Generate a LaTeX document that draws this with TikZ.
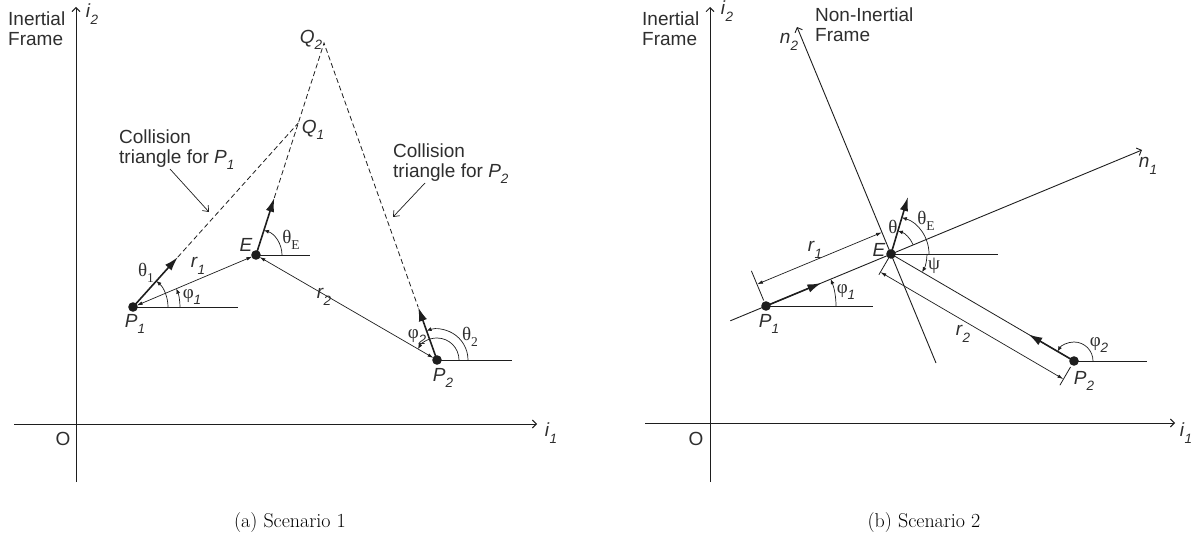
\documentclass[tikz,border=0pt]{standalone}
\usepackage{fontspec}
\newfontfamily\sff{Liberation Sans}
\newfontfamily\grk{Liberation Serif}
\usetikzlibrary{arrows.meta,calc}
\definecolor{ink}{HTML}{1E1E1E}
\definecolor{txt}{HTML}{2E2E2E}
\newcommand{\ilab}[2]{\textit{#1}\raisebox{-0.35em}{\fontsize{13.5}{13.5}\selectfont\textit{#2}}}
\newcommand{\glab}[2]{{\grk #1}\raisebox{-0.3em}{\fontsize{13.5}{13.5}\selectfont\grk #2}}
\newcommand{\gilab}[2]{{\grk #1}\raisebox{-0.35em}{\fontsize{13.5}{13.5}\selectfont\textit{#2}}}
\begin{document}
\begin{tikzpicture}[x=1pt,y=-1pt,
  axis/.style={draw=ink,line width=0.9pt,-{Straight Barb[length=4pt,width=8pt]}},
  thinline/.style={draw=ink,line width=0.8pt},
  vel/.style={draw=ink,line width=1.6pt,-{Latex[length=14pt,width=8.5pt]}},
  dimline/.style={draw=ink,line width=0.7pt,{Latex[length=6pt,width=3.5pt]}-{Latex[length=6pt,width=3.5pt]}},
  dsh/.style={draw=ink,line width=0.8pt,dash pattern=on 5pt off 3pt},
  ang/.style={draw=ink,line width=0.7pt,-{Latex[length=5pt,width=4pt]}},
  ptr/.style={draw=ink,line width=0.7pt,-{Straight Barb[length=5pt,width=8pt]}},
  lbl/.style={font=\sff\fontsize{19}{19.5}\selectfont,text=txt,inner sep=0pt},
  captxt/.style={font=\fontsize{20}{22}\selectfont,text=black,inner sep=0pt},
  dotfill/.style={fill=ink}]
\useasboundingbox (0,0) rectangle (1199,540);

% ================= left panel =================
\coordinate (LxS) at (14,424);
\coordinate (LxE) at (537,424);
\coordinate (LyS) at (76,482);
\coordinate (LyE) at (76,7);
\draw[axis] (LxS) -- (LxE);
\draw[axis] (LyS) -- (LyE);
\node[lbl] (Li1) at (551,433) {\ilab{i}{1}};
\node[lbl] (Li2) at (92,14) {\ilab{i}{2}};
\node[lbl] (LO) at (63,439) {O};
\node[lbl,align=left,anchor=north west] (LIF) at (8,12) {Inertial\\Frame};

\coordinate (P1) at (133,307);
\coordinate (E) at (256,255);
\coordinate (P2) at (437,360);
\coordinate (Q2) at (324,43);
\coordinate (Q1) at (298.3,123);
\coordinate (T1) at ($(P1)!67pt!(Q1)$);
\coordinate (TE) at ($(E)!60pt!(Q1)$);
\coordinate (T2) at ($(P2)!56pt!(Q2)$);
\coordinate (H1) at (238,307);
\coordinate (HE) at (310,255);
\coordinate (H2) at (512,360);

\draw[dsh] (T1) -- (Q1);
\draw[dsh] (TE) -- (Q1) -- (Q2) -- (T2);
\draw[thinline] (P1) -- (H1);
\draw[thinline] (E) -- (HE);
\draw[thinline] (P2) -- (H2);
\draw[dimline,shorten <=4pt,shorten >=4pt] (P1) -- (E);
\draw[dimline,shorten <=4pt,shorten >=4pt] (E) -- (P2);
\draw[vel] (P1) -- (T1);
\draw[vel] (E) -- (TE);
\draw[vel] (P2) -- (T2);

\draw[ang] ($(P1)+(35pt,0pt)$) arc[start angle=0,end angle=48.06,radius=35pt];
\draw[ang] ($(P1)+(47pt,0pt)$) arc[start angle=0,end angle=22.92,radius=47pt];
\draw[ang] ($(E)+(26pt,0pt)$) arc[start angle=0,end angle=72.2,radius=26pt];
\draw[ang] ($(P2)+(22pt,0pt)$) arc[start angle=0,end angle=149.9,radius=22pt];
\draw[ang] ($(P2)+(31pt,0pt)$) arc[start angle=0,end angle=109.6,radius=31pt];

\fill[dotfill] (P1) circle[radius=4.8pt];
\fill[dotfill] (E) circle[radius=4.8pt];
\fill[dotfill] (P2) circle[radius=4.8pt];

\node[lbl] (LP1) at (135,324) {\ilab{P}{1}};
\node[lbl] (LE) at (246,245) {\textit{E}};
\node[lbl] (LP2) at (443,378) {\ilab{P}{2}};
\node[lbl] (LQ1) at (313,130) {\ilab{Q}{1}};
\node[lbl] (LQ2) at (311,40) {\ilab{Q}{2}};
\node[lbl] (Lr1) at (198,266) {\ilab{r}{1}};
\node[lbl] (Lr2) at (324,297) {\ilab{r}{2}};
\node[lbl] (Lth1) at (146,273) {\glab{θ}{1}};
\node[lbl] (Lph1) at (192,297) {\gilab{φ}{1}};
\node[lbl] (LthE) at (291,240) {\glab{θ}{E}};
\node[lbl] (Lph2) at (417,337) {\gilab{φ}{2}};
\node[lbl] (Lth2) at (470,337) {\glab{θ}{2}};

\node[lbl,align=left,anchor=west] (CT1) at (119,150) {Collision\\triangle for \ilab{P}{1}};
\node[lbl,align=left,anchor=west] (CT2) at (393,164) {Collision\\triangle for \ilab{P}{2}};
\coordinate (C1a) at (170,169);
\coordinate (C1b) at (209,212);
\coordinate (C2a) at (425,183);
\coordinate (C2b) at (393,217);
\draw[ptr] (C1a) -- (C1b);
\draw[ptr] (C2a) -- (C2b);

\node[captxt] (CapA) at (290,523) {(a) Scenario 1};

% ================= right panel =================
\coordinate (RxS) at (645,423);
\coordinate (RxE) at (1175,423);
\coordinate (RyS) at (710,482);
\coordinate (RyE) at (710,7);
\draw[axis] (RxS) -- (RxE);
\draw[axis] (RyS) -- (RyE);
\node[lbl] (Ri1) at (1186,433) {\ilab{i}{1}};
\node[lbl] (Ri2) at (727,11) {\ilab{i}{2}};
\node[lbl] (RO) at (696,439) {O};
\node[lbl,align=left,anchor=north west] (RIF) at (642,12) {Inertial\\Frame};
\node[lbl,align=left,anchor=north west] (RNIF) at (815,8) {Non-Inertial\\Frame};

\coordinate (RE) at (891,254);
\coordinate (RP1) at (766,306);
\coordinate (RP2) at (1074,361);
\coordinate (N1s) at (730.3,320.8);
\coordinate (N1e) at (1142,150);
\coordinate (N2s) at (936,363);
\coordinate (N2e) at (797,27);
\coordinate (RV1) at (821.4,283);
\coordinate (RV2) at (1028.3,334.3);
\coordinate (RVE) at (908,197);
\coordinate (RH1) at (873,306);
\coordinate (RHE) at (998,254);
\coordinate (RH2) at (1147,361);
\coordinate (K1a) at (763.7,300.5);
\coordinate (K1b) at (751.4,270.9);
\coordinate (KEb) at (878.9,274.7);
\coordinate (K2a) at (1070.5,367);
\coordinate (K2b) at (1059.9,385.2);
\coordinate (D1a) at (757,284.3);
\coordinate (D1b) at (882,232.3);
\coordinate (D2a) at (880.4,272.1);
\coordinate (D2b) at (1063.4,379.1);

\draw[axis] (N1s) -- (N1e);
\draw[axis] (N2s) -- (N2e);
\draw[thinline] (RE) -- (RP2);
\draw[thinline] (RP1) -- (RH1);
\draw[thinline] (RE) -- (RHE);
\draw[thinline] (RP2) -- (RH2);
\draw[thinline] (K1a) -- (K1b);
\draw[thinline] (RE) -- (KEb);
\draw[thinline] (K2a) -- (K2b);
\draw[dimline] (D1a) -- (D1b);
\draw[dimline] (D2a) -- (D2b);
\draw[vel] (RP1) -- (RV1);
\draw[vel] (RP2) -- (RV2);
\draw[vel] (RE) -- (RVE);

\draw[ang] ($(RP1)+(70pt,0pt)$) arc[start angle=0,end angle=22.59,radius=70pt];
\draw[ang] ($(RE)+(22.59:24pt)$) arc[start angle=22.59,end angle=73.4,radius=24pt];
\draw[ang] ($(RE)+(38pt,0pt)$) arc[start angle=0,end angle=73.4,radius=38pt];
\draw[ang] ($(RE)+(36pt,0pt)$) arc[start angle=0,end angle=-30.3,radius=36pt];
\draw[ang] ($(RP2)+(19pt,0pt)$) arc[start angle=0,end angle=149.7,radius=19pt];

\fill[dotfill] (RP1) circle[radius=4.8pt];
\fill[dotfill] (RE) circle[radius=4.8pt];
\fill[dotfill] (RP2) circle[radius=4.8pt];

\node[lbl] (RLP1) at (769,324) {\ilab{P}{1}};
\node[lbl] (RLE) at (879,250) {\textit{E}};
\node[lbl] (RLP2) at (1084,381) {\ilab{P}{2}};
\node[lbl] (RLr1) at (815,250) {\ilab{r}{1}};
\node[lbl] (RLr2) at (963,334) {\ilab{r}{2}};
\node[lbl] (RLph1) at (846,292) {\gilab{φ}{1}};
\node[lbl] (RLph2) at (1099,345) {\gilab{φ}{2}};
\node[lbl] (RLth) at (893,227) {{\grk θ}};
\node[lbl] (RLthE) at (926,221) {\glab{θ}{E}};
\node[lbl] (RLpsi) at (934,266) {{\grk ψ}};
\node[lbl] (RLn1) at (1148,166) {\ilab{n}{1}};
\node[lbl] (RLn2) at (789,42) {\ilab{n}{2}};

\node[captxt] (CapB) at (924,523) {(b) Scenario 2};
\end{tikzpicture}
\end{document}
